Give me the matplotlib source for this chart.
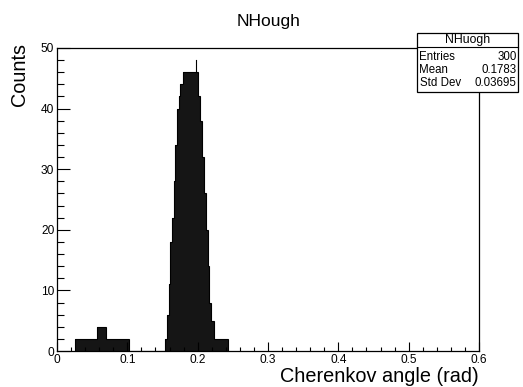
import numpy as np
import matplotlib
matplotlib.use("Agg")
import matplotlib.pyplot as plt
from matplotlib.ticker import MultipleLocator
from matplotlib.patches import Rectangle

plt.rcParams["font.family"] = ["Liberation Sans", "DejaVu Sans"]

# histogram (variable-width steps, counts)
bin_edges = [0.025, 0.057, 0.070, 0.102, 0.1533, 0.1562, 0.1586, 0.1610, 0.1633,
             0.1657, 0.1681, 0.1705, 0.1729, 0.1752, 0.1786, 0.2010, 0.2038,
             0.2067, 0.2095, 0.2119, 0.2143, 0.2167, 0.2190, 0.2229, 0.2429]
bin_counts = [2, 4, 2, 0, 2, 6, 11, 18, 22, 28, 34, 40, 42, 44, 46,
              42, 38, 32, 26, 20, 14, 8, 5, 2]
peak_err_x = 0.1977
peak_err = [46, 48]

hist_name = "NHuogh"
stats_labels = ["Entries", "Mean", "Std Dev"]
stats_values = ["300", "0.1783", "0.03695"]

W, H = 523, 387
fig = plt.figure(figsize=(W / 100, H / 100), dpi=100)
ax = fig.add_axes([57 / W, 1 - 351 / H, 422 / W, 303 / H])

ax.stairs(bin_counts, bin_edges, fill=True, color="#151515", lw=0)
ax.stairs(bin_counts, bin_edges, color="black", lw=0.8)
ax.plot([peak_err_x, peak_err_x], peak_err, color="black", lw=0.8)

ax.set_xlim(0, 0.6)
ax.set_ylim(0, 50)
ax.xaxis.set_major_locator(MultipleLocator(0.1))
ax.xaxis.set_minor_locator(MultipleLocator(0.02))
ax.yaxis.set_major_locator(MultipleLocator(10))
ax.yaxis.set_minor_locator(MultipleLocator(2))
ax.xaxis.set_major_formatter(plt.FuncFormatter(lambda v, p: "0" if v == 0 else f"{v:g}"))
ax.tick_params(axis="x", which="major", direction="in", length=6.5, width=0.8,
               labelsize=8.6, pad=2)
ax.tick_params(axis="x", which="minor", direction="in", length=3.2, width=0.8)
ax.tick_params(axis="y", which="major", direction="in", length=9.4, width=0.8,
               labelsize=8.6, pad=2)
ax.tick_params(axis="y", which="minor", direction="in", length=5, width=0.8)
for s in ax.spines.values():
    s.set_linewidth(0.9)

fig.text(268.5 / W, 1 - 21.5 / H, "NHough", ha="center", va="center", fontsize=12.5)
fig.text(19 / W, 1 - 43 / H, "Counts", rotation=90, ha="center", va="top", fontsize=14.3)
fig.text(479 / W, 1 - 386 / H, "Cherenkov angle (rad)", ha="right", va="bottom",
         fontsize=14.3)

# stats box
bx0, bx1, by0, by1 = 416.5, 518, 33, 92
fig.patches.append(Rectangle((bx0 / W, 1 - by1 / H), (bx1 - bx0) / W, (by1 - by0) / H,
                             transform=fig.transFigure, facecolor="white",
                             edgecolor="black", lw=0.9, zorder=10))
fig.lines.append(plt.Line2D([bx0 / W, bx1 / W], [1 - 46.5 / H, 1 - 46.5 / H],
                            transform=fig.transFigure, color="black", lw=0.8, zorder=11))
fig.text((bx0 + bx1) / 2 / W, 1 - 40 / H, hist_name, ha="center", va="center",
         fontsize=8.8, zorder=12)
for i, (lab, val) in enumerate(zip(stats_labels, stats_values)):
    yy = 1 - (57.5 + i * 12.8) / H
    fig.text(419.5 / W, yy, lab, ha="left", va="center", fontsize=8.3, zorder=12)
    fig.text(516.5 / W, yy, val, ha="right", va="center", fontsize=8.3, zorder=12)

fig.savefig("out.png", dpi=100)
